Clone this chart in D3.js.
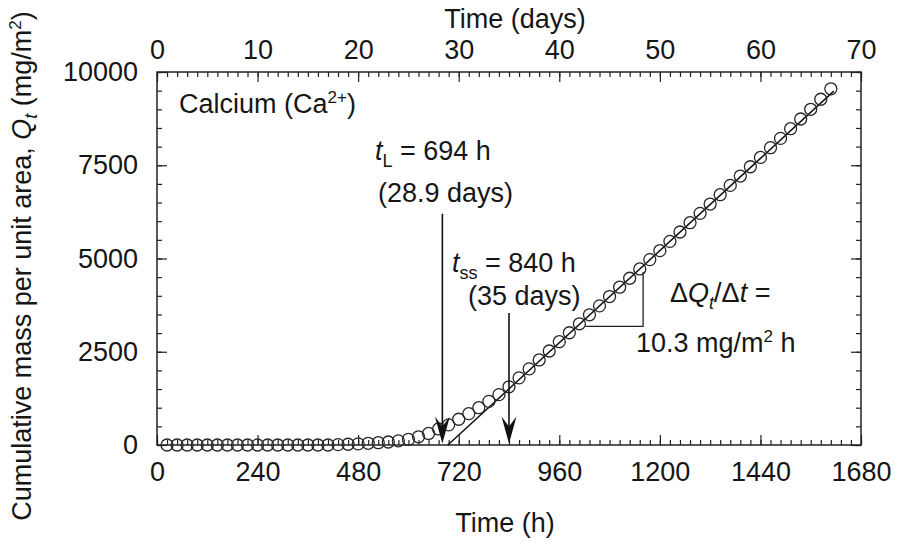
<!DOCTYPE html>
<html>
<head>
<meta charset="utf-8">
<script src="https://cdn.jsdelivr.net/npm/d3@7"></script>
<style>
body { margin: 0; background: #fff; }
text { font-family: "Liberation Sans", Arial, Helvetica, sans-serif; fill: #161616; }
</style>
</head>
<body>
<svg id="chart" width="899" height="550"></svg>
<script>
// elapsed time of each sample (h)
var hours = [24,48,72,96,120,144,168,192,216,240,264,288,312,336,360,384,408,432,456,480,
  504,528,552,576,600,624,648,672,696,720,744,768,792,816,840,864,888,912,936,960,
  984,1008,1032,1056,1080,1104,1128,1152,1176,1200,1224,1248,1272,1296,1320,1344,1368,1392,1416,1440,
  1464,1488,1512,1536,1560,1584,1608]
// cumulative Ca mass per unit area (mg/m2)
var mass = [0,0,0,0,0,0,0,0,0,0,0,0,0,0,0,0,0,10,20,30,
  45,62,80,110,150,220,310,430,540,690,840,1000,1170,1350,1560,1800,2040,2280,2520,2770,
  3010,3250,3490,3730,3980,4230,4470,4720,4970,5210,5460,5710,5960,6210,6460,6710,6960,7210,7460,7710,
  7970,8220,8480,8740,9000,9270,9550]

// steady-state fit line (h, mg/m2)
var fitT = [694, 1615]
var fitQ = [0, 9486]
// slope triangle legs
var triT = [1022, 1160]
var triQ = [3180, 4640]
// lag time arrows: [h, top Q, tip Q]
var arrows = [[681, 6200, 40], [840, 3540, 40]]

var hourTicks = [0, 240, 480, 720, 960, 1200, 1440, 1680]
var dayTicks = [0, 10, 20, 30, 40, 50, 60, 70]
var massTicks = [0, 2500, 5000, 7500, 10000]

var svg = d3.select('#chart')
var fs = 27

var x = d3.scaleLinear().domain([0, 1680]).range([157, 861])
var xd = d3.scaleLinear().domain([0, 70]).range([157, 861])
var y = d3.scaleLinear().domain([0, 10000]).range([445, 72])

var minorH = d3.range(0, 1681, 24)
var minorD = d3.range(0, 71, 1)
var minorQ = d3.range(0, 10001, 500)

function clean(g) {
  g.select('.domain').remove()
  g.selectAll('line').attr('stroke', '#222').attr('stroke-width', 1.2)
  g.selectAll('text').style('font-size', fs + 'px').attr('fill', '#161616')
    .style('font-family', '"Liberation Sans", Arial, sans-serif')
}

// bottom axis
svg.append('g').attr('transform', `translate(0,${y(0)})`)
  .call(d3.axisBottom(x).tickValues(minorH).tickSize(-5).tickFormat(''))
  .call(clean)
svg.append('g').attr('transform', `translate(0,${y(0)})`)
  .call(d3.axisBottom(x).tickValues(hourTicks).tickSize(-10).tickPadding(17).tickFormat(d3.format('d')))
  .call(clean)

// top axis (days)
svg.append('g').attr('transform', `translate(0,${y(10000)})`)
  .call(d3.axisTop(xd).tickValues(minorD).tickSize(-5).tickFormat(''))
  .call(clean)
svg.append('g').attr('transform', `translate(0,${y(10000)})`)
  .call(d3.axisTop(xd).tickValues(dayTicks).tickSize(-10).tickPadding(13).tickFormat(d3.format('d')))
  .call(clean)

// left / right axes
svg.append('g').attr('transform', `translate(${x(0)},0)`)
  .call(d3.axisLeft(y).tickValues(minorQ).tickSize(-5).tickFormat(''))
  .call(clean)
svg.append('g').attr('transform', `translate(${x(0)},0)`)
  .call(d3.axisLeft(y).tickValues(massTicks).tickSize(-10).tickPadding(19).tickFormat(d3.format('d')))
  .call(clean)
svg.append('g').attr('transform', `translate(${x(1680)},0)`)
  .call(d3.axisRight(y).tickValues(minorQ).tickSize(-5).tickFormat(''))
  .call(clean)
svg.append('g').attr('transform', `translate(${x(1680)},0)`)
  .call(d3.axisRight(y).tickValues(massTicks).tickSize(-10).tickFormat(''))
  .call(clean)

// frame
svg.append('rect')
  .attr('x', x(0)).attr('y', y(10000))
  .attr('width', x(1680) - x(0)).attr('height', y(0) - y(10000))
  .attr('fill', 'none').attr('stroke', '#222').attr('stroke-width', 1.5)

// fit line
svg.append('line')
  .attr('x1', x(fitT[0])).attr('y1', y(fitQ[0]))
  .attr('x2', x(fitT[1])).attr('y2', y(fitQ[1]))
  .attr('stroke', '#111').attr('stroke-width', 1.5)

// slope triangle
svg.append('path')
  .attr('d', `M${x(triT[0])},${y(triQ[0])}H${x(triT[1])}V${y(triQ[1])}`)
  .attr('fill', 'none').attr('stroke', '#222').attr('stroke-width', 1.3)

// data
svg.append('g').selectAll('circle')
  .data(hours)
  .enter()
  .append('circle')
    .attr('cx', d => x(d))
    .attr('cy', (d, i) => y(mass[i]))
    .attr('r', 6)
    .attr('fill', 'none')
    .attr('stroke', '#262626')
    .attr('stroke-width', 1.3)

// arrows
arrows.forEach(a => {
  var ax = x(a[0]), top = y(a[1]), tip = y(a[2])
  svg.append('line')
    .attr('x1', ax).attr('y1', top).attr('x2', ax).attr('y2', tip - 10)
    .attr('stroke', '#111').attr('stroke-width', 1.6)
  svg.append('path')
    .attr('d', `M${ax},${tip}L${ax - 7.5},${tip - 27}L${ax},${tip - 17}L${ax + 7.5},${tip - 27}Z`)
    .attr('fill', '#111')
})

// axis titles
svg.append('text').attr('x', 515).attr('y', 28).attr('text-anchor', 'middle')
  .style('font-size', fs + 'px').text('Time (days)')
svg.append('text').attr('x', 505).attr('y', 532).attr('text-anchor', 'middle')
  .style('font-size', fs + 'px').text('Time (h)')

var yt = svg.append('text')
  .attr('transform', 'translate(31,266) rotate(-90)')
  .attr('text-anchor', 'middle')
  .style('font-size', fs + 'px')
yt.append('tspan').text('Cumulative mass per unit area, ')
yt.append('tspan').style('font-style', 'italic').text('Q')
yt.append('tspan').style('font-style', 'italic').style('font-size', '18px').attr('dy', 6).text('t')
yt.append('tspan').attr('dy', -6).text(' (mg/m')
yt.append('tspan').style('font-size', '17px').attr('dy', -10).text('2')
yt.append('tspan').attr('dy', 10).text(')')

// annotations
var ca = svg.append('text').attr('x', 179).attr('y', 113).style('font-size', fs + 'px')
ca.append('tspan').text('Calcium (Ca')
ca.append('tspan').style('font-size', '17px').attr('dy', -10).text('2+')
ca.append('tspan').attr('dy', 10).text(')')

var tl = svg.append('text').attr('x', 375).attr('y', 160).style('font-size', fs + 'px')
tl.append('tspan').style('font-style', 'italic').text('t')
tl.append('tspan').style('font-size', '18px').attr('dy', 7).text('L')
tl.append('tspan').attr('dy', -7).text(' = 694 h')
svg.append('text').attr('x', 378).attr('y', 202).style('font-size', fs + 'px').text('(28.9 days)')

var ts = svg.append('text').attr('x', 452).attr('y', 272).style('font-size', fs + 'px')
ts.append('tspan').style('font-style', 'italic').text('t')
ts.append('tspan').style('font-size', '18px').attr('dy', 7).text('ss')
ts.append('tspan').attr('dy', -7).text(' = 840 h')
svg.append('text').attr('x', 468).attr('y', 305).style('font-size', fs + 'px').text('(35 days)')

var dq = svg.append('text').attr('x', 670).attr('y', 302).style('font-size', fs + 'px')
dq.append('tspan').text('\u0394')
dq.append('tspan').style('font-style', 'italic').text('Q')
dq.append('tspan').style('font-style', 'italic').style('font-size', '18px').attr('dy', 7).text('t')
dq.append('tspan').attr('dy', -7).text('/\u0394')
dq.append('tspan').style('font-style', 'italic').text('t')
dq.append('tspan').text(' =')

var sl = svg.append('text').attr('x', 636).attr('y', 352).style('font-size', fs + 'px')
sl.append('tspan').text('10.3 mg/m')
sl.append('tspan').style('font-size', '17px').attr('dy', -10).text('2')
sl.append('tspan').attr('dy', 10).text(' h')
</script>
</body>
</html>
